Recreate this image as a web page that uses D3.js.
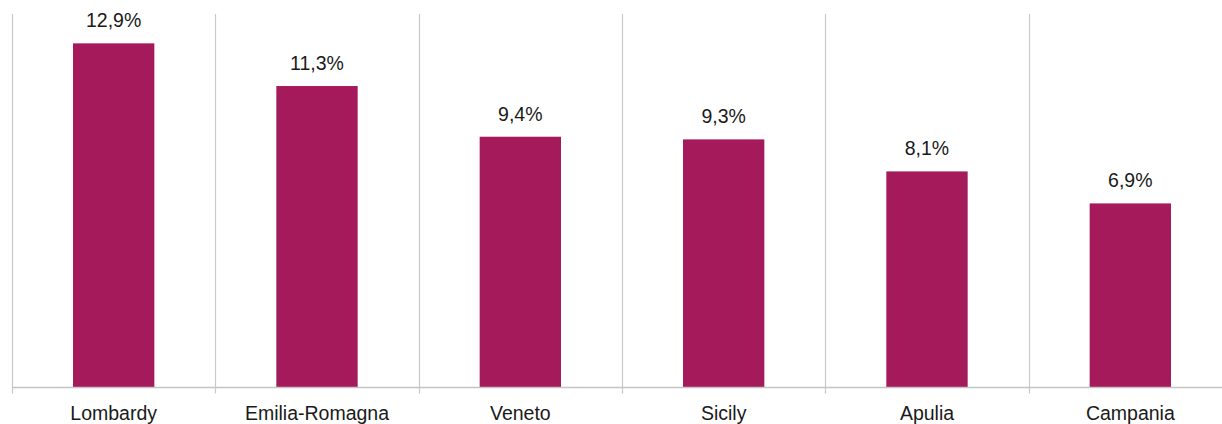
<!DOCTYPE html>
<html>
<head>
<meta charset="utf-8">
<script src="https://cdn.jsdelivr.net/npm/d3@7"></script>
<style>
  html, body { margin: 0; padding: 0; background: #fff; }
  svg { display: block; }
  text { font-family: "Liberation Sans", Arial, sans-serif; fill: #1a1a1a; }
</style>
</head>
<body>
<svg id="chart" width="1222" height="424"></svg>
<script>
// Regional shares
const regions = ["Lombardy", "Emilia-Romagna", "Veneto", "Sicily", "Apulia", "Campania"];
const shares = [12.9, 11.3, 9.4, 9.3, 8.1, 6.9];
const yDomain = [0, 14];

const svg = d3.select("#chart");
const plotLeft = 12, plotRight = 1232, plotTop = 14, baseline = 387.5;

const x = d3.scaleBand().domain(regions).range([plotLeft, plotRight]).padding(0);
const y = d3.scaleLinear().domain(yDomain).range([baseline, plotTop]);
const barW = x.bandwidth() * 0.4;
const fmt = v => d3.format(".1f")(v).replace(".", ",") + "%";

// Category separators (vertical gridlines with tick extension)
const bounds = regions.map(r => x(r));
svg.append("g").selectAll("line").data(bounds).join("line")
  .attr("x1", d => Math.round(d) + 0.5).attr("x2", d => Math.round(d) + 0.5)
  .attr("y1", plotTop).attr("y2", baseline + 6)
  .attr("stroke", "#c9c9c9").attr("stroke-width", 1.2);

// Bars
svg.append("g").selectAll("rect").data(regions).join("rect")
  .attr("x", d => x(d) + (x.bandwidth() - barW) / 2)
  .attr("width", barW)
  .attr("y", (d, i) => y(shares[i]))
  .attr("height", (d, i) => y(0) - y(shares[i]))
  .attr("fill", "#a41a5a");

// Baseline axis
svg.append("line")
  .attr("x1", plotLeft).attr("x2", 1222)
  .attr("y1", baseline).attr("y2", baseline)
  .attr("stroke", "#c4c4c4").attr("stroke-width", 1.5);

// Value labels
svg.append("g").selectAll("text").data(regions).join("text")
  .attr("x", d => x(d) + x.bandwidth() / 2)
  .attr("y", (d, i) => y(shares[i]) - 16)
  .attr("text-anchor", "middle")
  .attr("font-size", 19.5)
  .text((d, i) => fmt(shares[i]));

// Category labels
svg.append("g").selectAll("text").data(regions).join("text")
  .attr("x", d => x(d) + x.bandwidth() / 2)
  .attr("y", 420)
  .attr("text-anchor", "middle")
  .attr("font-size", 19.5)
  .text(d => d);
</script>
</body>
</html>
